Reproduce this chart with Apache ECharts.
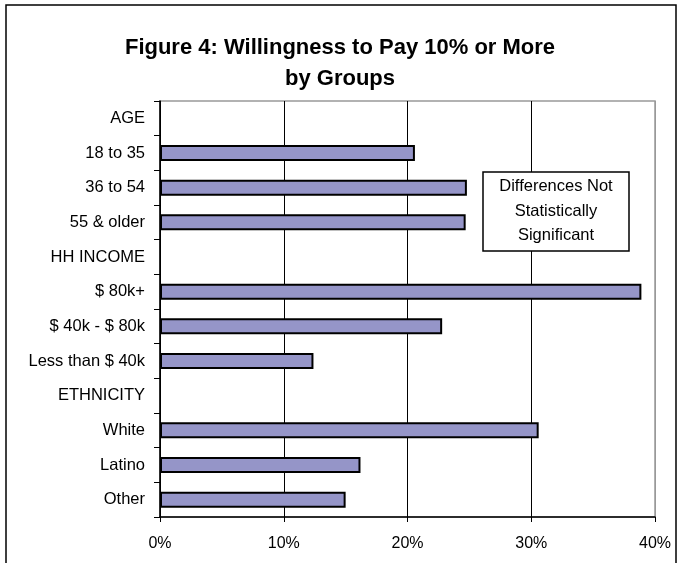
<!DOCTYPE html>
<html>
<head>
<meta charset="utf-8">
<script src="https://cdn.jsdelivr.net/npm/echarts@6/dist/echarts.min.js"></script>
<style>
html,body{margin:0;padding:0;background:#fff;}
#chart{width:680px;height:563px;}
</style>
</head>
<body>
<div id="chart"></div>
<script>
const titleLines = ['Figure 4: Willingness to Pay 10% or More', 'by Groups'];
const categories = ['AGE', '18 to 35', '36 to 54', '55 & older', 'HH INCOME', '$ 80k+', '$ 40k - $ 80k', 'Less than $ 40k', 'ETHNICITY', 'White', 'Latino', 'Other'];
const values = [null, 20.6, 24.8, 24.7, null, 38.9, 22.8, 12.4, null, 30.6, 16.2, 15.0];
const xTicks = [0, 10, 20, 30, 40];
const noteLines = ['Differences Not', 'Statistically', 'Significant'];

const chart = echarts.init(document.getElementById('chart'), null, {renderer: 'canvas'});
const FONT = 'Liberation Sans, Arial, sans-serif';
chart.setOption({
  animation: false,
  backgroundColor: '#fff',
  title: {
    text: titleLines.join('\n'),
    left: 'center',
    top: 27,
    textStyle: {fontFamily: FONT, fontSize: 22, fontWeight: 'bold', color: '#000', lineHeight: 31}
  },
  grid: {left: 160, right: 25, top: 101, bottom: 46, show: true, borderColor: '#999', borderWidth: 1.5},
  xAxis: {
    type: 'value',
    min: xTicks[0], max: xTicks[xTicks.length - 1], interval: 10,
    axisLine: {show: true, lineStyle: {color: '#000', width: 1.5}},
    axisTick: {show: true, length: 5, lineStyle: {color: '#000'}},
    axisLabel: {formatter: '{value}%', fontFamily: FONT, fontSize: 16, color: '#000', margin: 19},
    splitLine: {show: true, lineStyle: {color: ['#000', '#000', '#000', '#000', '#999'], width: 1}}
  },
  yAxis: {
    type: 'category',
    inverse: true,
    data: categories,
    axisLine: {show: true, lineStyle: {color: '#000', width: 1.5}},
    axisTick: {show: true, length: 6, lineStyle: {color: '#000'}},
    axisLabel: {fontFamily: FONT, fontSize: 16.5, color: '#000', margin: 15},
    splitLine: {show: false}
  },
  series: [{
    type: 'bar',
    data: values,
    barWidth: 16,
    silent: true,
    itemStyle: {color: '#9595c8', borderColor: '#000', borderWidth: 2}
  }],
  graphic: [
    {type: 'rect', shape: {x: 6, y: 5, width: 670, height: 600}, style: {fill: 'none', stroke: '#000', lineWidth: 1.5}, z: 100},
    {type: 'rect', shape: {x: 483, y: 172, width: 146, height: 79}, style: {fill: '#fff', stroke: '#000', lineWidth: 1.5}, z: 100},
    {type: 'text', x: 556, y: 211, style: {text: noteLines.join('\n'), fontFamily: FONT, fontSize: 16.5, fill: '#000', align: 'center', verticalAlign: 'middle', lineHeight: 24.5}, z: 101}
  ]
});
</script>
</body>
</html>
